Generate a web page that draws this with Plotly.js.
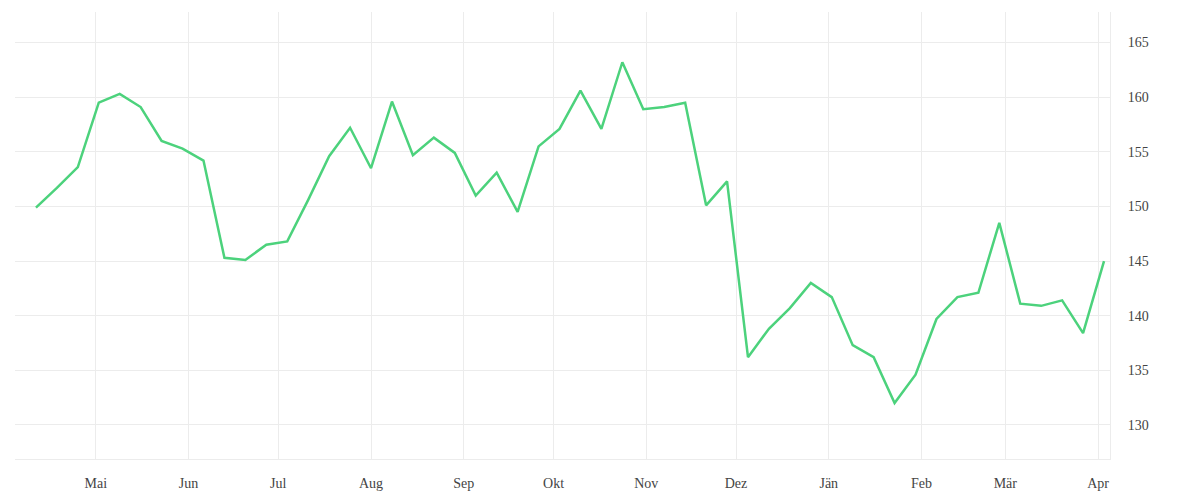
<!DOCTYPE html>
<html>
<head>
<meta charset="utf-8">
<script src="https://cdn.plot.ly/plotly-3.0.1.min.js"></script>
<style>html,body{margin:0;padding:0;background:#fff;}#chart{width:1200px;height:500px;}</style>
</head>
<body>
<div id="chart"></div>
<script>
var dates = [
  '2022-04-11','2022-04-18','2022-04-25','2022-05-02','2022-05-09','2022-05-16','2022-05-23','2022-05-30',
  '2022-06-06','2022-06-13','2022-06-20','2022-06-27','2022-07-04','2022-07-11','2022-07-18','2022-07-25',
  '2022-08-01','2022-08-08','2022-08-15','2022-08-22','2022-08-29','2022-09-05','2022-09-12','2022-09-19',
  '2022-09-26','2022-10-03','2022-10-10','2022-10-17','2022-10-24','2022-10-31','2022-11-07','2022-11-14',
  '2022-11-21','2022-11-28','2022-12-05','2022-12-12','2022-12-19','2022-12-26','2023-01-02','2023-01-09',
  '2023-01-16','2023-01-23','2023-01-30','2023-02-06','2023-02-13','2023-02-20','2023-02-27','2023-03-06',
  '2023-03-13','2023-03-20','2023-03-27','2023-04-03'
];
var values = [
  149.9, 151.7, 153.6, 159.5, 160.3, 159.1, 156.0, 155.3,
  154.2, 145.3, 145.1, 146.5, 146.8, 150.6, 154.6, 157.2,
  153.5, 159.6, 154.7, 156.3, 154.9, 151.0, 153.1, 149.5,
  155.5, 157.1, 160.6, 157.1, 163.2, 158.9, 159.1, 159.5,
  150.1, 152.3, 136.2, 138.8, 140.7, 143.0, 141.7, 137.3,
  136.2, 132.0, 134.6, 139.7, 141.7, 142.1, 148.5, 141.1,
  140.9, 141.4, 138.4, 145.0
];
var monthTicks = ['2022-05-01','2022-06-01','2022-07-01','2022-08-01','2022-09-01','2022-10-01',
  '2022-11-01','2022-12-01','2023-01-01','2023-02-01','2023-03-01','2023-04-01'];
var monthLabels = ['Mai','Jun','Jul','Aug','Sep','Okt','Nov','Dez','Jän','Feb','Mär','Apr'];
var yTicks = [130, 135, 140, 145, 150, 155, 160, 165];

var trace = {
  x: dates, y: values, type: 'scatter', mode: 'lines',
  line: {color: '#4cd27c', width: 2.5},
  hoverinfo: 'x+y'
};
var layout = {
  width: 1200, height: 500,
  margin: {l: 15, r: 90, t: 12, b: 41},
  paper_bgcolor: '#ffffff', plot_bgcolor: '#ffffff',
  showlegend: false,
  font: {family: '"Liberation Serif", serif', size: 14, color: '#444'},
  xaxis: {
    type: 'date',
    range: ['2022-04-04', '2023-04-05'],
    tickvals: monthTicks, ticktext: monthLabels,
    showgrid: true, gridcolor: '#ececec', gridwidth: 1,
    showline: true, linecolor: '#ececec', linewidth: 1,
    zeroline: false, ticks: '',
    ticklabelstandoff: 11,
    tickfont: {family: '"Liberation Serif", serif', size: 14, color: '#444'}
  },
  yaxis: {
    side: 'right',
    range: [126.88, 167.8],
    tickvals: yTicks,
    showgrid: true, gridcolor: '#ececec', gridwidth: 1,
    showline: true, linecolor: '#ececec', linewidth: 1,
    zeroline: false, ticks: '',
    ticklabelstandoff: 14,
    tickfont: {family: '"Liberation Serif", serif', size: 14, color: '#444'}
  }
};
Plotly.newPlot('chart', [trace], layout, {displayModeBar: false, staticPlot: true});
</script>
</body>
</html>
